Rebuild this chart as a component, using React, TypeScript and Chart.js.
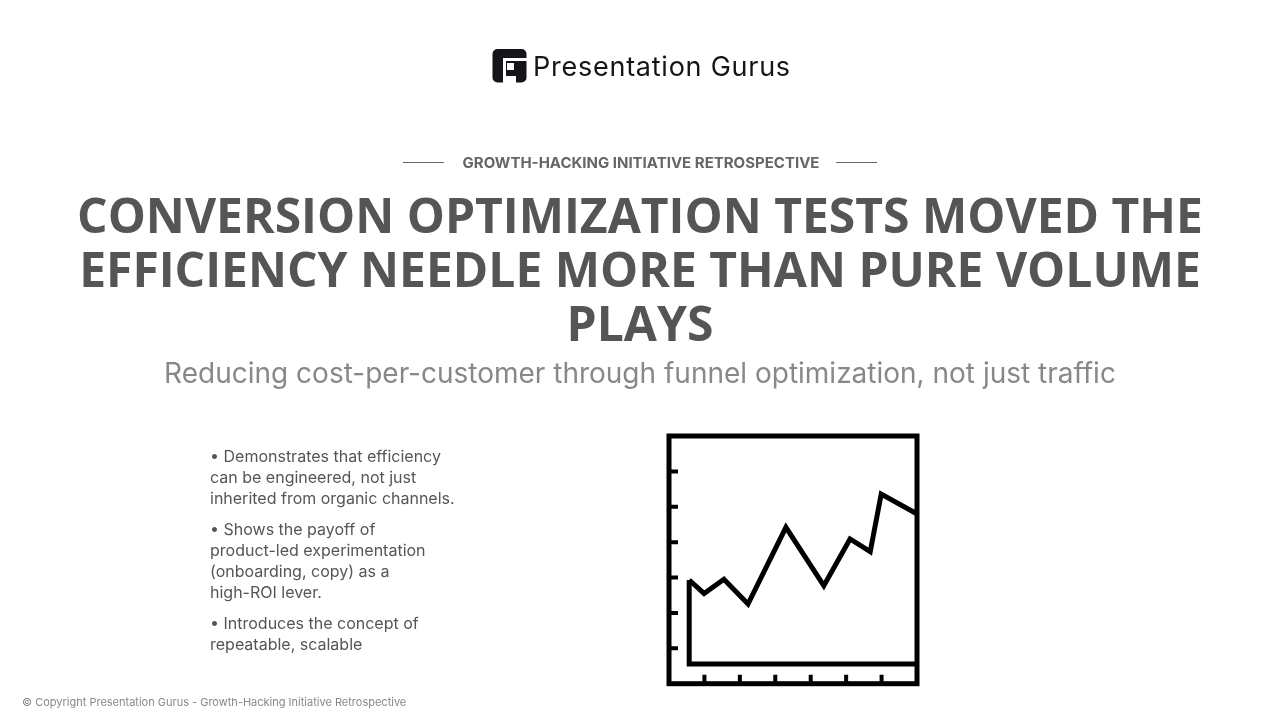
import React, { useEffect, useRef } from 'react';
import Chart from 'chart.js/auto';

// icon chart values, both axes run 0..7
const trendX = [0.57, 0.99, 1.55, 2.23, 3.3, 4.37, 5.11, 5.68, 5.99, 6.98];
const trendY = [2.93, 2.55, 2.95, 2.25, 4.42, 2.77, 4.09, 3.73, 5.36, 4.81];
const baseX = [0.57, 0.57, 6.98];
const baseY = [2.93, 0.56, 0.56];
const tickValues = [1, 2, 3, 4, 5, 6];

const titleLines = [
    'CONVERSION OPTIMIZATION TESTS MOVED THE',
    'EFFICIENCY NEEDLE MORE THAN PURE VOLUME',
    'PLAYS',
];
const bullets = [
    ['• Demonstrates that efficiency', 'can be engineered, not just', 'inherited from organic channels.'],
    ['• Shows the payoff of', 'product-led experimentation', '(onboarding, copy) as a', 'high-ROI lever.'],
    ['• Introduces the concept of', 'repeatable, scalable'],
];

const INK = '#000000';
const STROKE = 5;

const frameAndTicks = {
    id: 'frameAndTicks',
    afterDatasetsDraw(chart: any) {
        const { ctx, chartArea: a, scales } = chart;
        ctx.save();
        ctx.strokeStyle = INK;
        ctx.lineWidth = STROKE;
        ctx.strokeRect(a.left, a.top, a.right - a.left, a.bottom - a.top);
        ctx.lineWidth = 4;
        tickValues.forEach(v => {
            const px = scales.x.getPixelForValue(v);
            const py = scales.y.getPixelForValue(v);
            ctx.beginPath();
            ctx.moveTo(px, a.bottom);
            ctx.lineTo(px, a.bottom - 9);
            ctx.moveTo(a.left, py);
            ctx.lineTo(a.left + 9, py);
            ctx.stroke();
        });
        ctx.restore();
    },
};

const IconChart: React.FC = () => {
    const canvasRef = useRef<HTMLCanvasElement | null>(null);

    useEffect(() => {
        if (!canvasRef.current) return;
        const chart = new Chart(canvasRef.current, {
            type: 'line',
            data: {
                datasets: [
                    {
                        data: trendX.map((x, i) => ({ x, y: trendY[i] })),
                        borderColor: INK,
                        borderWidth: STROKE,
                        pointRadius: 0,
                        tension: 0,
                        borderJoinStyle: 'miter',
                        clip: false,
                    },
                    {
                        data: baseX.map((x, i) => ({ x, y: baseY[i] })),
                        borderColor: INK,
                        borderWidth: STROKE,
                        pointRadius: 0,
                        tension: 0,
                        borderJoinStyle: 'miter',
                        clip: false,
                    },
                ],
            },
            options: {
                animation: false,
                responsive: false,
                layout: { padding: { left: 9, right: 9, top: 9, bottom: 9.3 } },
                plugins: { legend: { display: false }, tooltip: { enabled: false } },
                scales: {
                    x: { type: 'linear', min: 0, max: 7, display: false },
                    y: { type: 'linear', min: 0, max: 7, display: false },
                },
            },
            plugins: [frameAndTicks],
        });
        return () => chart.destroy();
    }, []);

    return (
        <canvas
            ref={canvasRef}
            width={266}
            height={266}
            style={{ position: 'absolute', left: 660, top: 427, width: 266, height: 266 }}
        />
    );
};

const Logo: React.FC = () => (
    <>
        <svg width="36" height="36" viewBox="492 48 36 36" style={{ position: 'absolute', left: 492, top: 48 }}>
            <rect x="492.5" y="49" width="34" height="33.5" rx="5" fill="#14151a" />
            <g fill="#fff">
                <rect x="503" y="58" width="24" height="3" />
                <rect x="503" y="58" width="3" height="25" />
                <rect x="507" y="63" width="7" height="7" />
                <rect x="506" y="76" width="10" height="7" />
            </g>
        </svg>
        <div
            style={{
                position: 'absolute',
                left: 533,
                top: 51,
                fontFamily: 'Inter, sans-serif',
                fontSize: 27,
                lineHeight: '32px',
                fontWeight: 400,
                letterSpacing: 0.75,
                color: '#14151a',
                whiteSpace: 'nowrap',
            }}
        >
            Presentation Gurus
        </div>
    </>
);

const App: React.FC = () => (
    <div
        style={{
            position: 'absolute',
            left: 0,
            top: 0,
            width: 1280,
            height: 720,
            overflow: 'hidden',
            background: '#fff',
            fontFamily: 'Inter, sans-serif',
        }}
    >
        <div style={{ position: 'absolute', left: 0, top: 0, width: 1280, height: 720, willChange: 'transform' }}>
            <Logo />

            <div style={{ position: 'absolute', left: 403, top: 162, width: 41, height: 1, background: '#666' }} />
            <div style={{ position: 'absolute', left: 836, top: 162, width: 41, height: 1, background: '#666' }} />
            <div
                style={{
                    position: 'absolute',
                    left: 1,
                    width: 1280,
                    top: 152,
                    textAlign: 'center',
                    fontSize: 15,
                    lineHeight: '22px',
                    fontWeight: 700,
                    color: '#666',
                }}
            >
                GROWTH-HACKING INITIATIVE RETROSPECTIVE
            </div>

            <div
                style={{
                    position: 'absolute',
                    left: 0,
                    width: 1280,
                    top: 188,
                    textAlign: 'center',
                    fontFamily: '"Open Sans", sans-serif',
                    fontSize: 48,
                    lineHeight: '54px',
                    fontWeight: 700,
                    color: '#555',
                }}
            >
                {titleLines.map(line => (
                    <div key={line}>{line}</div>
                ))}
            </div>

            <div
                style={{
                    position: 'absolute',
                    left: 0,
                    width: 1280,
                    top: 354,
                    textAlign: 'center',
                    fontSize: 28,
                    lineHeight: '38px',
                    color: '#888',
                }}
            >
                Reducing cost-per-customer through funnel optimization, not just traffic
            </div>

            <div
                style={{
                    position: 'absolute',
                    left: 210,
                    top: 446,
                    fontSize: 16,
                    lineHeight: '21px',
                    color: '#555',
                    whiteSpace: 'nowrap',
                }}
            >
                {bullets.map((lines, i) => (
                    <div key={i} style={{ marginBottom: 10 }}>
                        {lines.map(line => (
                            <div key={line}>{line}</div>
                        ))}
                    </div>
                ))}
            </div>

            <div
                style={{
                    position: 'absolute',
                    left: 22,
                    top: 695,
                    fontSize: 11,
                    lineHeight: '14px',
                    color: '#888',
                    whiteSpace: 'nowrap',
                }}
            >
                © Copyright Presentation Gurus - Growth-Hacking Initiative Retrospective
            </div>
        </div>

        <IconChart />
    </div>
);

export default App;
